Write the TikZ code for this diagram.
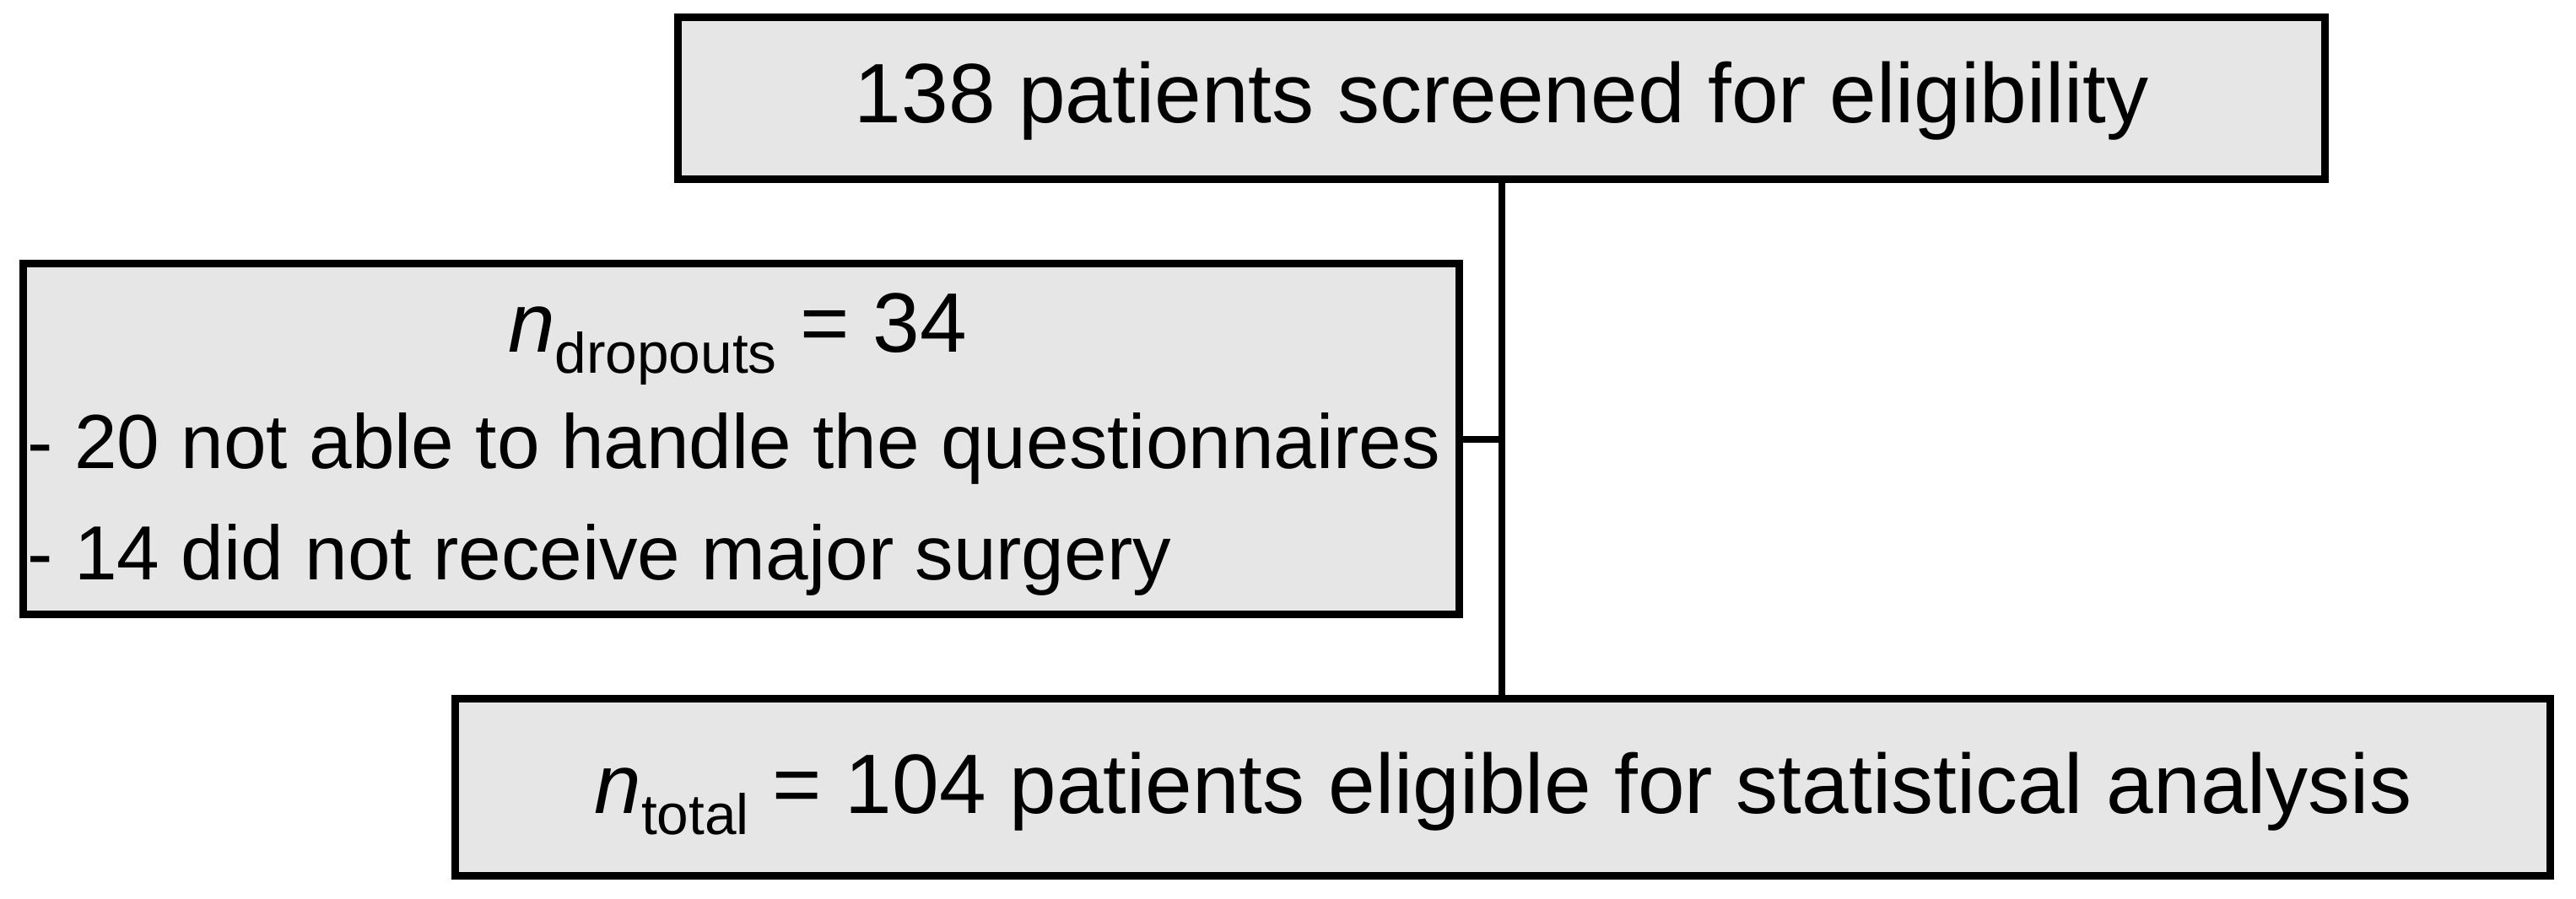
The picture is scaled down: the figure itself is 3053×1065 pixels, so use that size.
\documentclass[tikz,border=0pt]{standalone}
\usepackage{fontspec}
\setmainfont{Liberation Sans}
\newcommand{\bigtxt}{\fontsize{25pt}{30pt}\selectfont}
\newcommand{\smalltxt}{\fontsize{22.75pt}{27pt}\selectfont}
\newcommand{\subtxt}[1]{\raisebox{-6.25pt}{\fontsize{16.9pt}{19pt}\selectfont #1}}
\definecolor{boxgray}{RGB}{230,230,230}
\tikzset{
  box/.style={draw=black, fill=boxgray, line width=2.25pt, inner sep=0pt, rectangle},
  lbl/.style={inner sep=0pt, anchor=base, text=black},
  conn/.style={draw=black, line width=2pt},
}
\begin{document}
\begin{tikzpicture}[x=0.25pt, y=-0.25pt]
\useasboundingbox (0,0) rectangle (3053,1065);
% boxes
\node[box, minimum width=487.9pt, minimum height=48pt] (top) at (1779.75,116.5) {};
\node[box, minimum width=425.5pt, minimum height=104pt] (drop) at (878.5,520.5) {};
\node[box, minimum width=620.75pt, minimum height=52.6pt] (total) at (1781,933.75) {};
% texts
\node[lbl] (toptxt) at (1780,145) {\bigtxt 138 patients screened for eligibility};
\node[lbl] (droptxt) at (874,417) {\bigtxt\textit{n}\subtxt{dropouts} = 34};
\node[lbl, anchor=base west] (reason1) at (32,555) {\smalltxt - 20 not able to handle the questionnaires};
\node[lbl, anchor=base west] (reason2) at (32,687) {\smalltxt - 14 did not receive major surgery};
\node[lbl] (totaltxt) at (1781.5,964) {\bigtxt\textit{n}\subtxt{total} = 104 patients eligible for statistical analysis};
% connectors
\coordinate (j) at (1780,520.5);
\draw[conn] (top.south -| j) -- (total.north -| j);
\draw[conn] (drop.east) -- (drop.east -| j);
\end{tikzpicture}
\end{document}
